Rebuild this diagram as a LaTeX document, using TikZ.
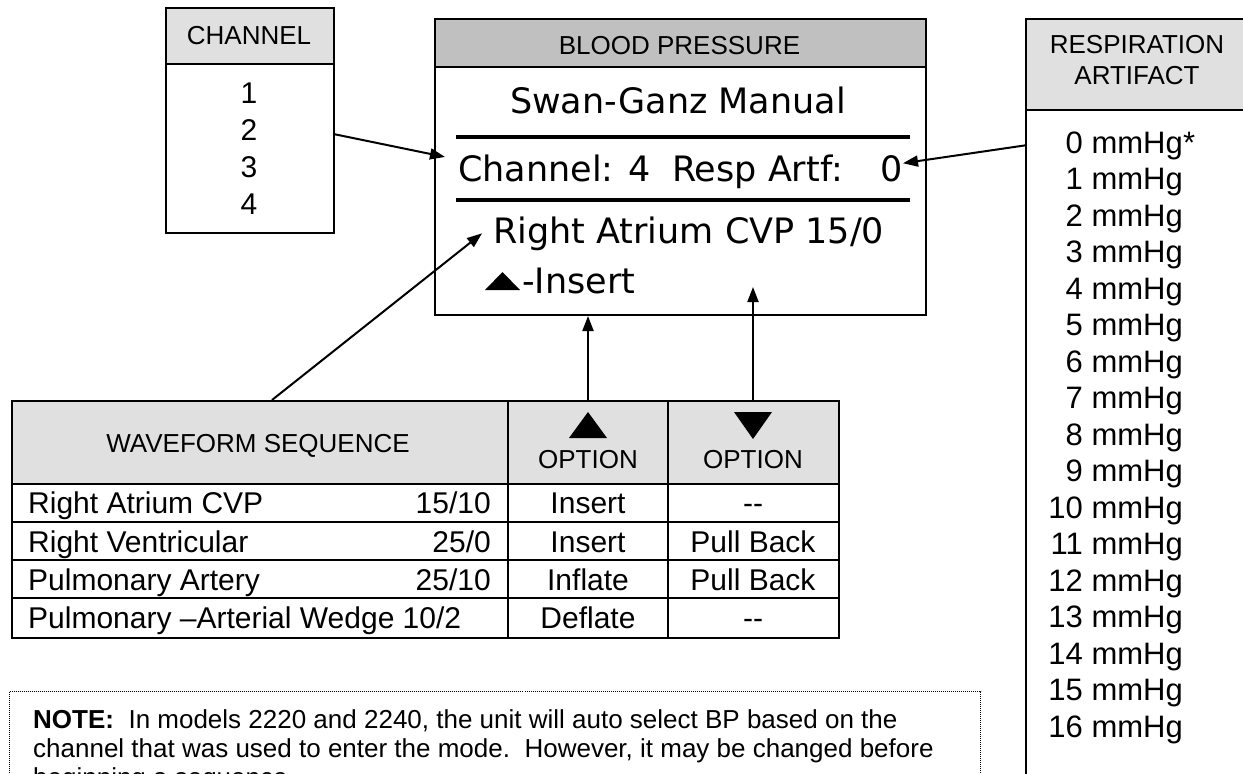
\documentclass[tikz,border=0pt]{standalone}
\usepackage{fontspec}
\setmainfont{Liberation Sans}
\newfontfamily\lcdfont{DejaVu Sans}
\usetikzlibrary{arrows.meta,calc}
\newcommand{\fs}[1]{\fontsize{#1}{#1}\selectfont}
\newcommand{\dd}{-{}-}
\definecolor{hdrgray}{HTML}{E0E0E0}
\definecolor{bpgray}{HTML}{C0C0C0}
\begin{document}
\begin{tikzpicture}[x=1pt,y=-1pt,
  box/.style={draw, line width=2pt, inner sep=0pt, anchor=north west},
  hdr/.style={font=\fs{26}, anchor=base, inner sep=0pt},
  body/.style={font=\fs{30}, inner sep=0pt},
  lcd/.style={font=\lcdfont\fs{35}, inner sep=0pt},
  arr/.style={line width=2pt, -{Triangle[length=15pt,width=11pt]}},
  grid/.style={line width=2pt}
]
\useasboundingbox (0,0) rectangle (1243,774);
\clip (0,0) rectangle (1243,774);
\fill[white] (0,0) rectangle (1243,774);

% CHANNEL box
\node[box, fill=hdrgray, minimum width=168pt, minimum height=56pt] (chhead) at (165,7) {};
\node[box, minimum width=168pt, minimum height=169pt] (chbox) at (165,63) {};
\node[hdr] (chtitle) at (249,44) {CHANNEL};
\foreach \i/\t in {0/1,1/2,2/3,3/4}{
  \pgfmathsetmacro\yy{103+37.3*\i}
  \node[body, anchor=base] (ch\t) at (249,\yy) {\t};
}

% BLOOD PRESSURE box
\node[box, fill=bpgray, minimum width=491pt, minimum height=48pt] (bphead) at (434,18) {};
\node[box, minimum width=491pt, minimum height=248pt] (bp) at (434,66) {};
\node[hdr] (bptitle) at (679.5,54) {BLOOD PRESSURE};
\node[lcd, anchor=base] (sg) at (678,113) {Swan-Ganz Manual};
\draw[line width=4pt] (456,137) coordinate (s1a) -- (910,137) coordinate (s1b);
\draw[line width=4pt] (456,200) coordinate (s2a) -- (910,200) coordinate (s2b);
\node[lcd, anchor=base west] (chl) at (458,181) {Channel: 4};
\node[lcd, anchor=base west] (rsl) at (672,181) {Resp Artf:};
\node[lcd, anchor=base east] (zero) at (903,181) {0};
\node[lcd, anchor=base west] (ra) at (493,243) {Right Atrium CVP 15/0};
\fill (485,290) -- (520,290) -- (502.5,272) -- cycle;
\node[lcd, anchor=base west] (ins) at (522,293) {-Insert};

% RESPIRATION ARTIFACT box
\node[box, fill=hdrgray, minimum width=400pt, minimum height=91pt] (rahead) at (1025,18) {};
\node[box, minimum width=400pt, minimum height=800pt] (resp) at (1025,109) {};
\node[hdr] (rt1) at (1137,53) {RESPIRATION};
\node[hdr] (rt2) at (1137,84) {ARTIFACT};
\foreach \i in {0,...,16}{
  \pgfmathsetmacro\yy{153+36.5*\i}
  \node[font=\fs{31}, inner sep=0pt, anchor=base east] (r\i) at (1183,\yy) {\i\ mmHg};
}
\node[font=\fs{31}, inner sep=0pt, anchor=base west] (rstar) at (r0.base east) {*};

% WAVEFORM table
\node[box, fill=hdrgray, minimum width=827pt, minimum height=83pt] (thead) at (11,400) {};
\node[box, minimum width=827pt, minimum height=154pt] (tbody) at (11,483) {};
\draw[grid] (508,400) -- (508,637);
\draw[grid] (668,400) -- (668,637);
\draw[grid] (11,522) -- (838,522);
\draw[grid] (11,560) -- (838,560);
\draw[grid] (11,598) -- (838,598);
\coordinate (c2) at (588,400);
\coordinate (c3) at (753,400);
\node[hdr] (wst) at (258,452) {WAVEFORM SEQUENCE};
\fill (569,438) -- (607,438) -- (588,412) -- cycle;
\fill (734,412) -- (772,412) -- (753,439) -- cycle;
\node[hdr] (opt1) at (588,468) {OPTION};
\node[hdr] (opt2) at (753,468) {OPTION};
\foreach \n/\yy/\name/\val/\o/\p in {1/513/Right Atrium CVP/15\slash10/Insert/\dd,
    2/552/Right Ventricular/25\slash0/Insert/Pull Back,
    3/590/Pulmonary Artery/25\slash10/Inflate/Pull Back}{
  \node[body, anchor=base west] (nm\n) at (28,\yy) {\name};
  \node[body, anchor=base east] (vl\n) at (491,\yy) {\val};
  \node[body, anchor=base] (oa\n) at (588,\yy) {\o};
  \node[body, anchor=base] (ob\n) at (753,\yy) {\p};
}
\node[body, anchor=base west] (nm4) at (28,628) {Pulmonary –Arterial Wedge 10/2};
\node[body, anchor=base] (oa4) at (588,628) {Deflate};
\node[body, anchor=base] (ob4) at (753,628) {\dd};

% NOTE box
\node[box, draw=black, line width=1pt, dash pattern=on 1pt off 1pt, minimum width=971pt, minimum height=200pt] (note) at (9,691) {};
\node[font=\fs{26}, inner sep=0pt, anchor=base west] (n1) at (33,728) {\textbf{NOTE:}\ \ In models 2220 and 2240, the unit will auto select BP based on the};
\node[font=\fs{26}, inner sep=0pt, anchor=base west] (n2) at (33,757) {channel that was used to enter the mode.\ \ However, it may be changed before};
\node[font=\fs{26}, inner sep=0pt, anchor=base west] (n3) at (33,786) {beginning a sequence.};

% connectors
\coordinate (chtip) at ([xshift=-13pt,yshift=11pt]chl.west);
\draw[arr] ([yshift=-4.5pt]chbox.north east |- ch2) -- (chtip);
\coordinate (rtip) at ([yshift=5pt]zero.east);
\draw[arr] (resp.west |- r0) -- (rtip);
\coordinate (ratip) at ([xshift=-11pt]ra.west);
\draw[arr] ([xshift=261pt]thead.north west) -- (ratip);
\draw[arr] (c2) -- (c2 |- bp.south);
\coordinate (tip3) at (753,287);
\draw[arr] (c3) -- (tip3);
\end{tikzpicture}
\end{document}
